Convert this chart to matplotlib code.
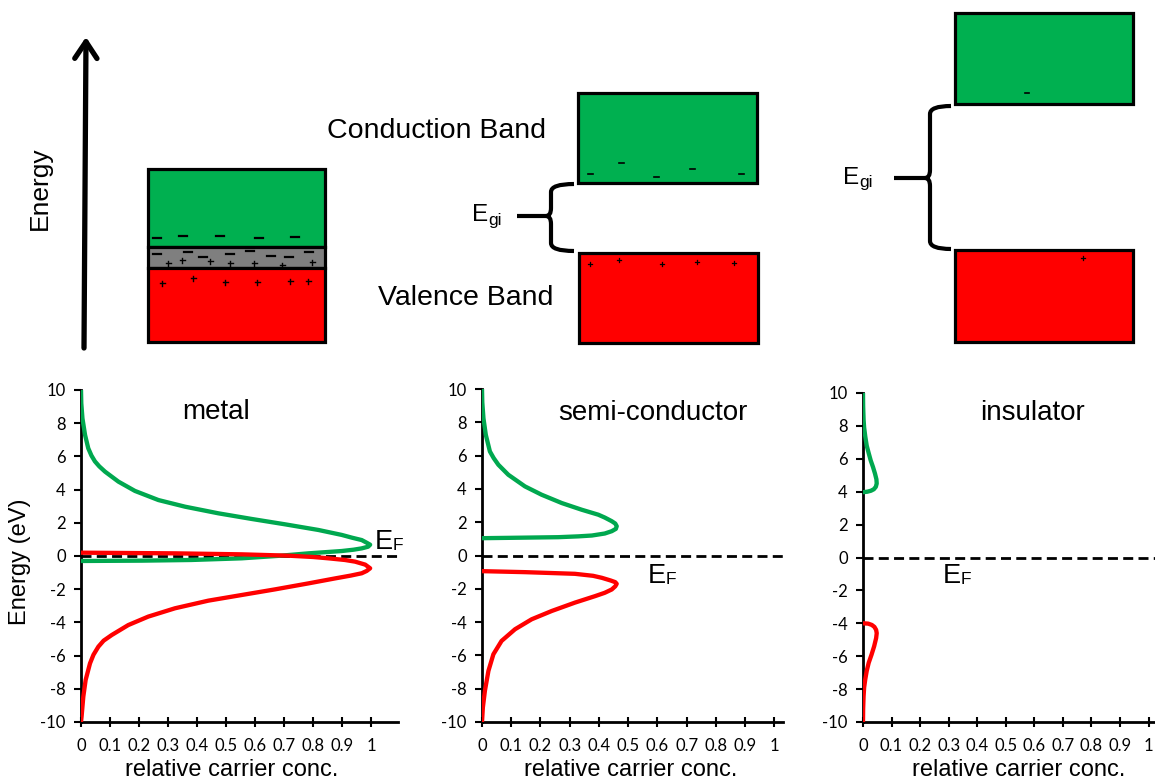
import matplotlib
matplotlib.use("Agg")
import matplotlib.pyplot as plt
from matplotlib.patches import Rectangle, PathPatch
from matplotlib.path import Path

# ---------------- data ----------------
panels = ["metal", "semi-conductor", "insulator"]
y_ticks = [-10, -8, -6, -4, -2, 0, 2, 4, 6, 8, 10]
x_ticks = [0, 0.1, 0.2, 0.3, 0.4, 0.5, 0.6, 0.7, 0.8, 0.9, 1]
x_ticklabels = ["0", "0.1", "0.2", "0.3", "0.4", "0.5", "0.6", "0.7", "0.8", "0.9", "1"]

metal_cb_x = [0, 0.21, 0.38, 0.554, 0.69, 0.784, 0.85, 0.899, 0.94, 0.968, 0.99, 0.997,
              0.985, 0.968, 0.935, 0.899, 0.818, 0.703, 0.589, 0.474, 0.359, 0.267, 0.186,
              0.129, 0.083, 0.063, 0.048, 0.036, 0.025, 0.014, 0.005, 0.001, 0]
metal_cb_e = [-0.30, -0.28, -0.24, -0.14, 0.02, 0.16, 0.24, 0.30, 0.38, 0.46, 0.56, 0.68,
              0.80, 0.96, 1.10, 1.27, 1.57, 1.91, 2.23, 2.57, 2.97, 3.37, 3.92,
              4.48, 5.08, 5.40, 5.70, 6.05, 6.49, 7.29, 8.29, 9.2, 10.0]
metal_vb_x = [0, 0.324, 0.554, 0.715, 0.80, 0.853, 0.91, 0.945, 0.98, 0.997, 0.985, 0.968,
              0.93, 0.876, 0.784, 0.669, 0.554, 0.439, 0.324, 0.232, 0.163, 0.106, 0.078,
              0.060, 0.043, 0.031, 0.016, 0.008, 0.002, 0]
metal_vb_e = [0.20, 0.16, 0.10, 0.02, -0.06, -0.14, -0.24, -0.34, -0.52, -0.74, -0.90, -1.04,
              -1.18, -1.35, -1.65, -2.01, -2.35, -2.69, -3.15, -3.65, -4.16, -4.76, -5.10,
              -5.46, -5.95, -6.47, -7.47, -8.47, -9.68, -10.0]

semi_cb_x = [0, 0.09, 0.261, 0.33, 0.376, 0.42, 0.444, 0.458, 0.461, 0.456, 0.444, 0.42,
             0.398, 0.341, 0.273, 0.204, 0.147, 0.09, 0.056, 0.04, 0.027, 0.013, 0.005, 0.001, 0]
semi_cb_e = [1.04, 1.06, 1.10, 1.15, 1.20, 1.32, 1.46, 1.60, 1.76, 1.92, 2.06, 2.28,
             2.45, 2.75, 3.15, 3.65, 4.15, 4.85, 5.45, 5.85, 6.25, 7.25, 8.24, 9.2, 10.0]
semi_vb_x = [0, 0.147, 0.318, 0.38, 0.41, 0.44, 0.456, 0.461, 0.456, 0.444, 0.42, 0.387,
             0.318, 0.239, 0.17, 0.113, 0.067, 0.039, 0.022, 0.01, 0.003, 0]
semi_vb_e = [-0.94, -1.00, -1.10, -1.22, -1.34, -1.50, -1.60, -1.70, -1.85, -2.04, -2.24, -2.44,
             -2.83, -3.33, -3.83, -4.43, -5.13, -5.93, -6.93, -8.12, -9.12, -10.0]

ins_cb_x = [0, 0.015, 0.028, 0.038, 0.045, 0.048, 0.047, 0.042, 0.035, 0.027, 0.02, 0.013,
            0.008, 0.004, 0.002, 0.0005, 0]
ins_cb_e = [3.97, 4.0, 4.06, 4.15, 4.3, 4.5, 4.75, 5.1, 5.5, 5.9, 6.34, 6.8,
            7.35, 7.9, 8.4, 9.2, 10.0]
ins_vb_x = [0, 0.018, 0.031, 0.04, 0.046, 0.048, 0.046, 0.039, 0.03, 0.02, 0.013, 0.008,
            0.004, 0.002, 0.0005, 0]
ins_vb_e = [-4.0, -4.02, -4.1, -4.22, -4.4, -4.6, -4.9, -5.4, -5.9, -6.4, -6.9, -7.4,
            -7.9, -8.45, -9.2, -10.0]

curves_cb = [(metal_cb_x, metal_cb_e), (semi_cb_x, semi_cb_e), (ins_cb_x, ins_cb_e)]
curves_vb = [(metal_vb_x, metal_vb_e), (semi_vb_x, semi_vb_e), (ins_vb_x, ins_vb_e)]

GREEN_BOX = "#00B050"
GREEN_LINE = "#00A84F"
RED = "#FF0000"
GRAY = "#7F7F7F"

W, H = 1155, 783
fig = plt.figure(figsize=(W / 100, H / 100), dpi=100)
plt.rcParams['font.family'] = ['Liberation Sans', 'DejaVu Sans']
TICKFONT = ['Lato', 'DejaVu Sans']

# background axes in pixel coordinates
ax0 = fig.add_axes([0, 0, 1, 1])
ax0.set_xlim(0, W)
ax0.set_ylim(H, 0)
ax0.axis("off")


def box(x0, y0, x1, y1, color):
    ax0.add_patch(Rectangle((x0, y0), x1 - x0, y1 - y0, facecolor=color,
                            edgecolor="black", lw=2.3, zorder=2))


# energy arrow
ax0.annotate("", xy=(86, 37), xytext=(84, 348),
             arrowprops=dict(arrowstyle="->,head_length=0.6,head_width=0.4",
                             lw=3.8, color="black", shrinkA=0, shrinkB=0,
                             mutation_scale=20))
ax0.text(40, 188, "Energy", rotation=90, ha="center", va="center", fontsize=19)

# metal bands
box(148, 169, 325, 247, GREEN_BOX)
box(148, 247, 325, 268, GRAY)
box(148, 268, 325, 342, RED)
metal_minus = [(157, 238), (183, 236), (220, 236), (259, 238), (295, 237),
               (157, 254), (188, 252), (203, 257), (230, 254), (250, 251),
               (271, 256), (289, 257), (309, 252)]
metal_plus = [(168, 263), (182, 260), (210, 261), (230, 263), (254, 263), (282, 265),
              (312, 262), (162, 283), (193, 278), (225, 282), (257, 282), (290, 281), (308, 281)]
for (x, y) in metal_minus:
    ax0.plot([x - 4, x + 4], [y, y], color="black", lw=1.6, zorder=3)
for (x, y) in metal_plus:
    ax0.plot([x - 2.5, x + 2.5], [y, y], color="black", lw=1.0, zorder=3)
    ax0.plot([x, x], [y - 2.5, y + 2.5], color="black", lw=1.0, zorder=3)

# semiconductor bands
box(578, 93, 757, 183, GREEN_BOX)
box(579, 253, 758, 343, RED)
semi_minus = [(590, 174), (621, 163), (656, 177), (692, 169), (741, 174)]
semi_plus = [(590, 264), (619, 260), (662, 264), (697, 262), (734, 263)]
for (x, y) in semi_minus:
    ax0.plot([x - 2.5, x + 2.5], [y, y], color="black", lw=1.2, zorder=3)
for (x, y) in semi_plus:
    ax0.plot([x - 2, x + 2], [y, y], color="black", lw=0.9, zorder=3)
    ax0.plot([x, x], [y - 2, y + 2], color="black", lw=0.9, zorder=3)

# insulator bands
box(955, 13, 1133, 104, GREEN_BOX)
box(955, 250, 1133, 342, RED)
ax0.plot([1025, 1029], [93, 93], color="black", lw=1.2, zorder=3)
ax0.plot([1081, 1085], [258, 258], color="black", lw=0.9, zorder=3)
ax0.plot([1083, 1083], [256, 260], color="black", lw=0.9, zorder=3)

ax0.text(327, 131, "Conduction Band", ha="left", va="center", fontsize=20.5)
ax0.text(378, 298, "Valence Band", ha="left", va="center", fontsize=20.5)


def brace(x_end, x_mid, y_top, y_bot, y_tip, x_line0):
    r = 8
    tip = 5
    verts = [(x_end, y_top), (x_mid, y_top), (x_mid, y_top + r),
             (x_mid, y_tip - r), (x_mid, y_tip), (x_mid - tip, y_tip),
             (x_mid, y_tip), (x_mid, y_tip + r),
             (x_mid, y_bot - r), (x_mid, y_bot), (x_end, y_bot)]
    codes = [Path.MOVETO, Path.CURVE3, Path.CURVE3,
             Path.LINETO, Path.CURVE3, Path.CURVE3,
             Path.CURVE3, Path.CURVE3,
             Path.LINETO, Path.CURVE3, Path.CURVE3]
    ax0.add_patch(PathPatch(Path(verts, codes), facecolor="none",
                            edgecolor="black", lw=3.0, capstyle="butt", zorder=3))
    ax0.plot([x_line0, x_mid - tip], [y_tip, y_tip], color="black", lw=3.0,
             solid_capstyle="butt", zorder=3)


brace(574, 551, 184, 251, 216, 517)
brace(951, 930, 106, 249, 178, 894)


def egi(x, y):
    ax0.text(x, y, "E", ha="left", va="center", fontsize=17.5)
    ax0.text(x + 16.5, y + 5, "gi", ha="left", va="center", fontsize=12.5)


egi(472, 215)
egi(843, 178)

# ---------------- bottom plots ----------------
axes_px = [(81, 398, 390, 722, 1.093), (482, 783, 389, 722, 1.03), (863, 1170, 393, 722, 1.075)]
xlabel_pos = [0.476, 0.493, 0.508]
title_px = [(216, 412), (653, 413), (1033, 413)]
ef_px = [(375, 542), (648, 576), (943, 576)]

for i, (l, r, t, b, xmax) in enumerate(axes_px):
    ax = fig.add_axes([l / W, 1 - b / H, (r - l) / W, (b - t) / H])
    ax.set_facecolor("none")
    ax.set_xlim(0, xmax)
    ax.set_ylim(-10, 10)
    for s in ["top", "right"]:
        ax.spines[s].set_visible(False)
    for s in ["left", "bottom"]:
        ax.spines[s].set_linewidth(2.0)
        ax.spines[s].set_color("black")
    ax.axhline(0, color="black", lw=2.0, ls=(0, (3.6, 1.9)), zorder=1)
    cx, ce = curves_cb[i]
    vx, ve = curves_vb[i]
    ax.plot(cx, ce, color=GREEN_LINE, lw=3.1, solid_joinstyle="round",
            solid_capstyle="round", zorder=3)
    ax.plot(vx, ve, color=RED, lw=3.1, solid_joinstyle="round",
            solid_capstyle="round", zorder=3)
    ax.set_yticks(y_ticks)
    ax.set_yticklabels([str(v) for v in y_ticks], fontfamily=TICKFONT, fontsize=12)
    ax.set_xticks(x_ticks)
    ax.set_xticklabels(x_ticklabels, fontfamily=TICKFONT, fontsize=12)
    ax.tick_params(axis="y", direction="out", length=5, width=1.5, pad=6)
    ax.tick_params(axis="x", direction="inout", length=7, width=1.5, pad=8)
    ax.set_xlabel("relative carrier conc.", fontsize=17)
    ax.xaxis.set_label_coords(xlabel_pos[i], -0.112)
    tx, ty = title_px[i]
    ax0.text(tx, ty, panels[i], ha="center", va="center", fontsize=20)
    ex, ey = ef_px[i]
    ax0.text(ex, ey, "E", ha="left", va="center", fontsize=19.5)
    ax0.text(ex + 18, ey + 4, "F", ha="left", va="center", fontsize=12.5)

fig.text(20 / W, 1 - 562 / H, "Energy (eV)", rotation=90, ha="center", va="center", fontsize=17)

fig.savefig("out.png", dpi=100)
